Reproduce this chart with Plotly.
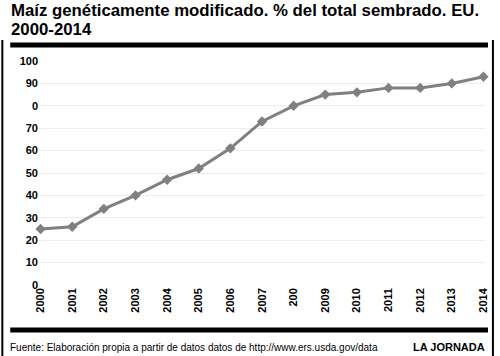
import plotly.graph_objects as go

years = [2000, 2001, 2002, 2003, 2004, 2005, 2006, 2007, 2008, 2009, 2010, 2011, 2012, 2013, 2014]
year_labels = ["2000", "2001", "2002", "2003", "2004", "2005", "2006", "2007", "200", "2009", "2010", "2011", "2012", "2013", "2014"]
pct = [25, 26, 34, 40, 47, 52, 61, 73, 80, 85, 86, 88, 88, 90, 93]
y_ticks = [0, 10, 20, 30, 40, 50, 60, 70, 80, 90, 100]
y_labels = ["0", "10", "20", "30", "40", "50", "60", "70", "0", "90", "100"]

W, H = 500, 356
L, R, T, B = 39, 11, 61, 71
pw, ph = W - L - R, H - T - B

def px(x):
    return (x - L) / pw

def py(y):
    return (H - B - y) / ph

fig = go.Figure()
fig.add_trace(go.Scatter(
    x=years, y=pct, mode="lines+markers",
    line=dict(color="#808080", width=3),
    marker=dict(symbol="diamond", size=8, color="#808080"),
    cliponaxis=False, hoverinfo="skip"))

font_family = "Liberation Sans, Arial, sans-serif"

fig.update_layout(
    width=W, height=H,
    margin=dict(l=L, r=R, t=T, b=B),
    paper_bgcolor="white", plot_bgcolor="white",
    showlegend=False,
    font=dict(family=font_family, color="black"),
    xaxis=dict(range=[1999.95, 2014.05], tickvals=years, ticktext=year_labels,
               tickangle=-90, showgrid=False, zeroline=False, showline=False,
               tickfont=dict(size=11, family=font_family, weight="bold"),
               ticks="", ticklen=0),
    yaxis=dict(range=[0, 100], tickvals=y_ticks, ticktext=y_labels,
               showgrid=True, gridcolor="#ececec", gridwidth=1, zeroline=False,
               showline=False, ticks="",
               tickfont=dict(size=11, family=font_family, weight="bold")),
)

shapes = [
    dict(type="line", xref="paper", yref="paper", x0=px(10), x1=px(492), y0=py(45), y1=py(45),
         line=dict(color="black", width=5)),
    dict(type="line", xref="paper", yref="paper", x0=px(10), x1=px(492), y0=py(330), y1=py(330),
         line=dict(color="black", width=5)),
    dict(type="line", xref="paper", yref="paper", x0=px(2), x1=px(2), y0=py(40), y1=py(356),
         line=dict(color="black", width=2)),
    dict(type="line", xref="paper", yref="paper", x0=px(497), x1=px(497), y0=py(40), y1=py(356),
         line=dict(color="black", width=2)),
]
fig.update_layout(shapes=shapes)

title_lines = ["Maíz genéticamente modificado. % del total sembrado. EU.", "2000-2014"]
for i, line in enumerate(title_lines):
    fig.add_annotation(xref="paper", yref="paper", x=px(9), y=py(11 + 19 * i),
                       xanchor="left", yanchor="middle",
                       text="<b>" + line + "</b>", showarrow=False, align="left",
                       font=dict(size=16.8, family=font_family, color="black"))
fig.add_annotation(xref="paper", yref="paper", x=px(8), y=py(347), xanchor="left", yanchor="middle",
                   text="Fuente: Elaboración propia a partir de datos datos de http://www.ers.usda.gov/data",
                   showarrow=False, font=dict(size=10, family=font_family, color="black"))
fig.add_annotation(xref="paper", yref="paper", x=px(491), y=py(347), xanchor="right", yanchor="middle",
                   text="<b>LA JORNADA</b>",
                   showarrow=False, font=dict(size=11, family=font_family, color="black"))

fig.write_html("out.html", config={"displayModeBar": False},
               post_script="document.body.style.margin='0';document.body.style.overflow='hidden';")
